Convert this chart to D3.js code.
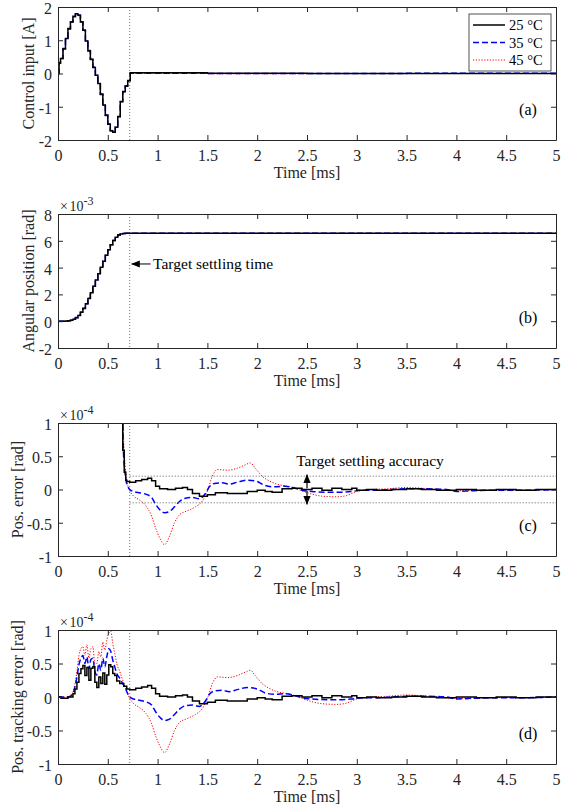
<!DOCTYPE html>
<html>
<head>
<meta charset="utf-8">
<script src="https://cdn.jsdelivr.net/npm/d3@7"></script>
<style>
  body { margin: 0; background: #fff; }
  svg text { font-family: "Liberation Serif", "Times New Roman", serif; }
</style>
</head>
<body>
<svg id="chart" width="567" height="812"></svg>
<script>
// ---- data (time in ms) ----
var seriesNames = ["25 °C", "35 °C", "45 °C"];
var xTicks = [0, 0.5, 1, 1.5, 2, 2.5, 3, 3.5, 4, 4.5, 5];
var settleTime = 0.72;
var settleBand = 0.2; // x1e-4 rad

// (a) control input [A], zero-order hold every 0.025 ms
var uTime = [0, 0.01, 0.025, 0.05, 0.075, 0.1, 0.125, 0.15, 0.175, 0.2, 0.225, 0.25, 0.275, 0.3, 0.325,
  0.35, 0.375, 0.4, 0.425, 0.45, 0.475, 0.5, 0.525, 0.55, 0.575, 0.6, 0.625, 0.65, 0.675, 0.7, 0.725,
  1.5, 2.5, 3.5, 5];
var u25 = [0, 0.32, 0.45, 0.75, 1.05, 1.35, 1.55, 1.72, 1.8, 1.75, 1.55, 1.3, 0.98, 0.68, 0.42,
  0.18, -0.05, -0.3, -0.62, -0.95, -1.25, -1.52, -1.72, -1.77, -1.62, -1.3, -0.85, -0.55, -0.38, -0.22, 0.02,
  0.01, 0, 0, 0];
var u35 = [0, 0.31, 0.45, 0.74, 1.05, 1.34, 1.55, 1.71, 1.79, 1.75, 1.56, 1.3, 0.99, 0.69, 0.43,
  0.19, -0.05, -0.31, -0.63, -0.96, -1.26, -1.53, -1.72, -1.76, -1.61, -1.29, -0.84, -0.54, -0.37, -0.21, 0.01,
  0, 0, 0.01, 0];
var u45 = [0, 0.3, 0.44, 0.74, 1.04, 1.34, 1.54, 1.71, 1.79, 1.74, 1.56, 1.31, 0.99, 0.69, 0.43,
  0.19, -0.04, -0.31, -0.63, -0.96, -1.26, -1.53, -1.71, -1.76, -1.61, -1.28, -0.84, -0.54, -0.37, -0.21, 0.0,
  -0.01, 0, 0, 0];

// (b) angular position [x1e-3 rad]
var thTime = [0, 0.025, 0.05, 0.075, 0.1, 0.125, 0.15, 0.175, 0.2, 0.225, 0.25, 0.275, 0.3, 0.325, 0.35,
  0.375, 0.4, 0.425, 0.45, 0.475, 0.5, 0.525, 0.55, 0.575, 0.6, 0.625, 0.65, 0.675, 0.7, 5];
var th25 = [0, 0, 0, 0.01, 0.03, 0.07, 0.14, 0.26, 0.43, 0.66, 0.95, 1.3, 1.7, 2.13, 2.6,
  3.07, 3.55, 4.02, 4.48, 4.92, 5.33, 5.7, 6.02, 6.27, 6.43, 6.51, 6.55, 6.56, 6.56, 6.56];
var th35 = [0, 0, 0, 0.01, 0.03, 0.07, 0.15, 0.27, 0.44, 0.67, 0.96, 1.31, 1.71, 2.14, 2.61,
  3.08, 3.56, 4.03, 4.49, 4.93, 5.34, 5.7, 6.02, 6.27, 6.43, 6.51, 6.55, 6.56, 6.56, 6.56];
var th45 = [0, 0, 0, 0.01, 0.04, 0.08, 0.15, 0.27, 0.45, 0.68, 0.97, 1.32, 1.72, 2.15, 2.62,
  3.09, 3.57, 4.04, 4.5, 4.93, 5.34, 5.71, 6.02, 6.27, 6.43, 6.51, 6.55, 6.56, 6.56, 6.56];

// error after the settling time, shared by (c) and (d) [x1e-4 rad]
var tail25 = [[0.72,0.11],[0.78,0.13],[0.84,0.15],[0.9,0.17],[0.94,0.13],[0.98,0.05],[1.02,0.01],[1.1,0.0],
  [1.18,0.02],[1.25,0.03],[1.3,0.0],[1.35,-0.06],[1.42,-0.1],[1.5,-0.08],[1.58,-0.05],[1.7,-0.06],[1.8,-0.06],
  [1.9,-0.03],[2.0,-0.01],[2.08,-0.03],[2.15,-0.04],[2.25,0.01],[2.35,0.02],[2.45,0.0],[2.55,0.02],[2.65,-0.01],
  [2.75,0.02],[2.85,0.0],[2.95,0.02],[3.0,-0.01],[3.1,0.0],[3.2,-0.01],[3.35,0.0],[3.5,0.01],[3.65,0.0],
  [3.8,-0.01],[4.0,0.0],[4.2,-0.01],[4.4,0.0],[4.6,-0.01],[4.8,0.0],[5.0,0.0]];
var tail35 = [[0.72,0.0],[0.76,-0.03],[0.82,-0.05],[0.88,-0.07],[0.94,-0.12],[0.98,-0.22],[1.02,-0.3],[1.07,-0.35],
  [1.12,-0.33],[1.17,-0.26],[1.22,-0.18],[1.28,-0.13],[1.35,-0.12],[1.42,-0.14],[1.48,-0.06],[1.52,0.04],[1.57,0.09],
  [1.65,0.1],[1.72,0.08],[1.8,0.11],[1.9,0.14],[2.0,0.12],[2.08,0.06],[2.18,0.04],[2.28,0.05],[2.38,0.02],
  [2.45,-0.01],[2.55,-0.03],[2.7,-0.04],[2.85,-0.04],[2.95,-0.03],[3.05,-0.01],[3.2,-0.01],[3.35,0.0],[3.5,0.01],
  [3.7,0.01],[3.9,0.0],[4.0,-0.03],[4.15,-0.02],[4.4,-0.01],[4.7,-0.01],[5.0,0.0]];
var tail45 = [[0.72,-0.02],[0.76,-0.1],[0.82,-0.16],[0.88,-0.24],[0.94,-0.4],[0.98,-0.58],[1.02,-0.72],[1.07,-0.83],
  [1.12,-0.7],[1.17,-0.5],[1.22,-0.38],[1.3,-0.32],[1.38,-0.26],[1.45,-0.17],[1.5,-0.02],[1.55,0.2],[1.6,0.3],
  [1.7,0.29],[1.8,0.32],[1.88,0.37],[1.93,0.4],[1.98,0.32],[2.05,0.2],[2.12,0.13],[2.2,0.08],[2.3,0.05],
  [2.38,0.02],[2.45,-0.02],[2.55,-0.07],[2.65,-0.1],[2.8,-0.11],[2.9,-0.09],[3.0,-0.03],[3.15,0.0],[3.3,0.01],
  [3.5,0.03],[3.65,0.02],[3.8,0.0],[4.0,-0.02],[4.3,-0.01],[4.6,-0.01],[5.0,0.0]];

// (c) position error before the settling time (goes off the top)
var posHead25 = [[0.55,3],[0.64,1.4],[0.65,0.59],[0.665,0.26],[0.68,0.14],[0.69,0.12]];
var posHead35 = [[0.55,3],[0.645,1.4],[0.655,0.65],[0.67,0.3],[0.685,0.12],[0.7,0.05]];
var posHead45 = [[0.55,3],[0.645,1.5],[0.66,0.7],[0.675,0.35],[0.69,0.15],[0.705,0.03]];

// (d) tracking error before the settling time
var trackHead25 = [[0,0],[0.03,-0.02],[0.1,0],[0.15,0.05],[0.17,0.12],[0.19,0.22],[0.21,0.35],[0.23,0.42],
  [0.25,0.47],[0.27,0.32],[0.29,0.44],[0.31,0.25],[0.33,0.43],[0.35,0.45],[0.37,0.22],[0.39,0.14],[0.41,0.3],
  [0.43,0.2],[0.45,0.36],[0.47,0.19],[0.49,0.33],[0.51,0.48],[0.53,0.45],[0.55,0.35],[0.57,0.32],[0.59,0.24],
  [0.62,0.2],[0.66,0.16],[0.69,0.12]];
var trackHead35 = [[0,0],[0.1,0.0],[0.15,0.05],[0.17,0.15],[0.19,0.3],[0.21,0.48],[0.23,0.58],[0.25,0.62],
  [0.27,0.5],[0.29,0.6],[0.31,0.42],[0.33,0.56],[0.35,0.58],[0.37,0.38],[0.39,0.33],[0.41,0.5],[0.43,0.4],
  [0.45,0.58],[0.47,0.45],[0.49,0.6],[0.51,0.72],[0.53,0.68],[0.55,0.55],[0.57,0.45],[0.59,0.35],[0.62,0.28],
  [0.65,0.2],[0.68,0.12],[0.7,0.05]];
var trackHead45 = [[0,0],[0.1,0.0],[0.15,0.08],[0.17,0.2],[0.19,0.38],[0.21,0.62],[0.23,0.72],[0.25,0.75],
  [0.27,0.62],[0.29,0.78],[0.31,0.58],[0.33,0.72],[0.35,0.75],[0.37,0.5],[0.39,0.5],[0.41,0.68],[0.43,0.6],
  [0.45,0.82],[0.47,0.7],[0.49,0.85],[0.51,0.95],[0.53,0.98],[0.55,0.8],[0.57,0.65],[0.59,0.5],[0.62,0.38],
  [0.65,0.25],[0.68,0.12],[0.7,0.04]];

// ---- drawing ----
var svg = d3.select("#chart");
var left = 58, right = 556;
var axisColor = "#262626";
var styles = [
  { color: "#000000", width: 1.5, dash: null },
  { color: "#0000ff", width: 1.5, dash: "6,3" },
  { color: "#ff0000", width: 1, dash: "1.2,1.6" }
];

var x = d3.scaleLinear().domain([0, 5]).range([left, right]);

function zip(t, v) { return t.map((d, i) => [d, v[i]]); }

function panel(id, top, bottom, yDomain, yTicks, yLabel, labelX, tag, series, expo, smooth) {
  var y = d3.scaleLinear().domain(yDomain).range([bottom, top]);
  var g = svg.append("g");

  g.append("clipPath").attr("id", "clip" + id)
    .append("rect").attr("x", left).attr("y", top)
    .attr("width", right - left).attr("height", bottom - top);

  var stepLine = d3.line().x(d => x(d[0])).y(d => y(d[1])).curve(d3.curveStepAfter);
  var linLine = d3.line().x(d => x(d[0])).y(d => y(d[1])).curve(d3.curveMonotoneX);

  // settling time marker
  g.append("line")
    .attr("x1", x(settleTime)).attr("x2", x(settleTime))
    .attr("y1", top).attr("y2", bottom)
    .attr("stroke", "#555").attr("stroke-width", 0.8).attr("stroke-dasharray", "1,2");

  var plot = g.append("g").attr("clip-path", "url(#clip" + id + ")");
  // draw 45, 35, then 25 on top
  for (var i = series.length - 1; i >= 0; i--) {
    plot.append("path")
      .datum(series[i])
      .attr("fill", "none")
      .attr("stroke", styles[i].color)
      .attr("stroke-width", styles[i].width)
      .attr("stroke-dasharray", styles[i].dash)
      .attr("d", smooth && i > 0 ? linLine : stepLine);
  }

  var fmt = d => String(d);
  var ax = [
    g.append("g").attr("transform", `translate(0,${bottom})`)
      .call(d3.axisBottom(x).tickValues(xTicks).tickFormat(fmt).tickSize(-5).tickSizeOuter(0).tickPadding(6)),
    g.append("g").attr("transform", `translate(0,${top})`)
      .call(d3.axisTop(x).tickValues(xTicks).tickFormat("").tickSize(-5).tickSizeOuter(0)),
    g.append("g").attr("transform", `translate(${left},0)`)
      .call(d3.axisLeft(y).tickValues(yTicks).tickFormat(fmt).tickSize(-5).tickSizeOuter(0).tickPadding(6)),
    g.append("g").attr("transform", `translate(${right},0)`)
      .call(d3.axisRight(y).tickValues(yTicks).tickFormat("").tickSize(-5).tickSizeOuter(0))
  ];
  ax.forEach(a => {
    a.selectAll("path,line").attr("stroke", axisColor);
    a.selectAll("text").attr("fill", axisColor).attr("font-size", 16)
      .attr("font-family", "Liberation Serif, Times New Roman, serif");
  });
  ax[0].selectAll("text").attr("dy", "0.95em");
  ax[2].selectAll("text").attr("dy", "0.4em");

  g.append("text")
    .attr("x", (left + right) / 2).attr("y", bottom + 38)
    .attr("text-anchor", "middle").attr("font-size", 16).attr("fill", axisColor)
    .text("Time [ms]");
  g.append("text")
    .attr("transform", `translate(${labelX},${(top + bottom) / 2}) rotate(-90)`)
    .attr("text-anchor", "middle").attr("dy", "0.35em")
    .attr("font-size", 16).attr("fill", axisColor)
    .text(yLabel);
  g.append("text")
    .attr("x", 528).attr("y", bottom - 25)
    .attr("text-anchor", "middle").attr("font-size", 16).attr("fill", "#000")
    .text(tag);

  if (expo) {
    var t = g.append("text").attr("x", left + 2).attr("y", top - 3)
      .attr("font-size", 14).attr("fill", axisColor);
    t.append("tspan").text("×");
    t.append("tspan").attr("dx", 1.5).text("10");
    t.append("tspan").attr("dy", -6).attr("font-size", 12).text(expo);
  }
  return { g: g, y: y };
}

var pa = panel("a", 7, 140, [-2, 2], [-2, -1, 0, 1, 2], "Control input [A]", 28, "(a)",
  [zip(uTime, u25), zip(uTime, u35), zip(uTime, u45)], null, false);

var pb = panel("b", 214, 348, [-2, 8], [-2, 0, 2, 4, 6, 8], "Angular position [rad]", 28, "(b)",
  [zip(thTime, th25), zip(thTime, th35), zip(thTime, th45)], "-3", false);

var pc = panel("c", 423, 556, [-1, 1], [-1, -0.5, 0, 0.5, 1], "Pos. error [rad]", 17, "(c)",
  [posHead25.concat(tail25), posHead35.concat(tail35), posHead45.concat(tail45)], "-4", true);

var pd = panel("d", 630, 764, [-1, 1], [-1, -0.5, 0, 0.5, 1], "Pos. tracking error [rad]", 17, "(d)",
  [trackHead25.concat(tail25), trackHead35.concat(tail35), trackHead45.concat(tail45)], "-4", true);

// legend in (a)
var leg = svg.append("g");
leg.append("rect").attr("x", 469).attr("y", 14).attr("width", 82).attr("height", 57)
  .attr("fill", "#fff").attr("stroke", axisColor).attr("stroke-width", 0.8);
seriesNames.forEach((name, i) => {
  var ly = 25 + i * 17.5;
  leg.append("line").attr("x1", 473).attr("x2", 505).attr("y1", ly).attr("y2", ly)
    .attr("stroke", styles[i].color).attr("stroke-width", styles[i].width)
    .attr("stroke-dasharray", styles[i].dash);
  leg.append("text").attr("x", 509).attr("y", ly).attr("dy", "0.35em")
    .attr("font-size", 14.5).attr("fill", "#000").text(name);
});

// arrow heads
var defs = svg.append("defs");
defs.append("marker").attr("id", "head").attr("viewBox", "0 0 10 10")
  .attr("refX", 9).attr("refY", 5).attr("markerWidth", 9).attr("markerHeight", 9)
  .attr("markerUnits", "userSpaceOnUse").attr("orient", "auto-start-reverse")
  .append("path").attr("d", "M0,1 L10,5 L0,9 Z").attr("fill", "#000");

// (b) settling time annotation
var yb = pb.y(4.27);
pb.g.append("line").attr("x1", x(0.93)).attr("x2", x(0.74)).attr("y1", yb).attr("y2", yb)
  .attr("stroke", "#000").attr("stroke-width", 1).attr("marker-end", "url(#head)");
pb.g.append("text").attr("x", x(0.955)).attr("y", yb).attr("dy", "0.35em")
  .attr("font-size", 15.5).attr("fill", "#000").text("Target settling time");

// (c) settling band
[settleBand, -settleBand].forEach(v => {
  pc.g.append("line").attr("x1", x(settleTime)).attr("x2", right)
    .attr("y1", pc.y(v)).attr("y2", pc.y(v))
    .attr("stroke", "#333").attr("stroke-width", 0.8).attr("stroke-dasharray", "1,2");
});
pc.g.append("line").attr("x1", x(2.5)).attr("x2", x(2.5))
  .attr("y1", pc.y(0.02)).attr("y2", pc.y(settleBand + 0.02))
  .attr("stroke", "#000").attr("stroke-width", 1.2).attr("marker-end", "url(#head)");
pc.g.append("line").attr("x1", x(2.5)).attr("x2", x(2.5))
  .attr("y1", pc.y(-0.02)).attr("y2", pc.y(-settleBand - 0.02))
  .attr("stroke", "#000").attr("stroke-width", 1.2).attr("marker-end", "url(#head)");
pc.g.append("text").attr("x", 370).attr("y", pc.y(0.44)).attr("dy", "0.35em")
  .attr("text-anchor", "middle").attr("font-size", 15.5).attr("fill", "#000")
  .text("Target settling accuracy");
</script>
</body>
</html>
